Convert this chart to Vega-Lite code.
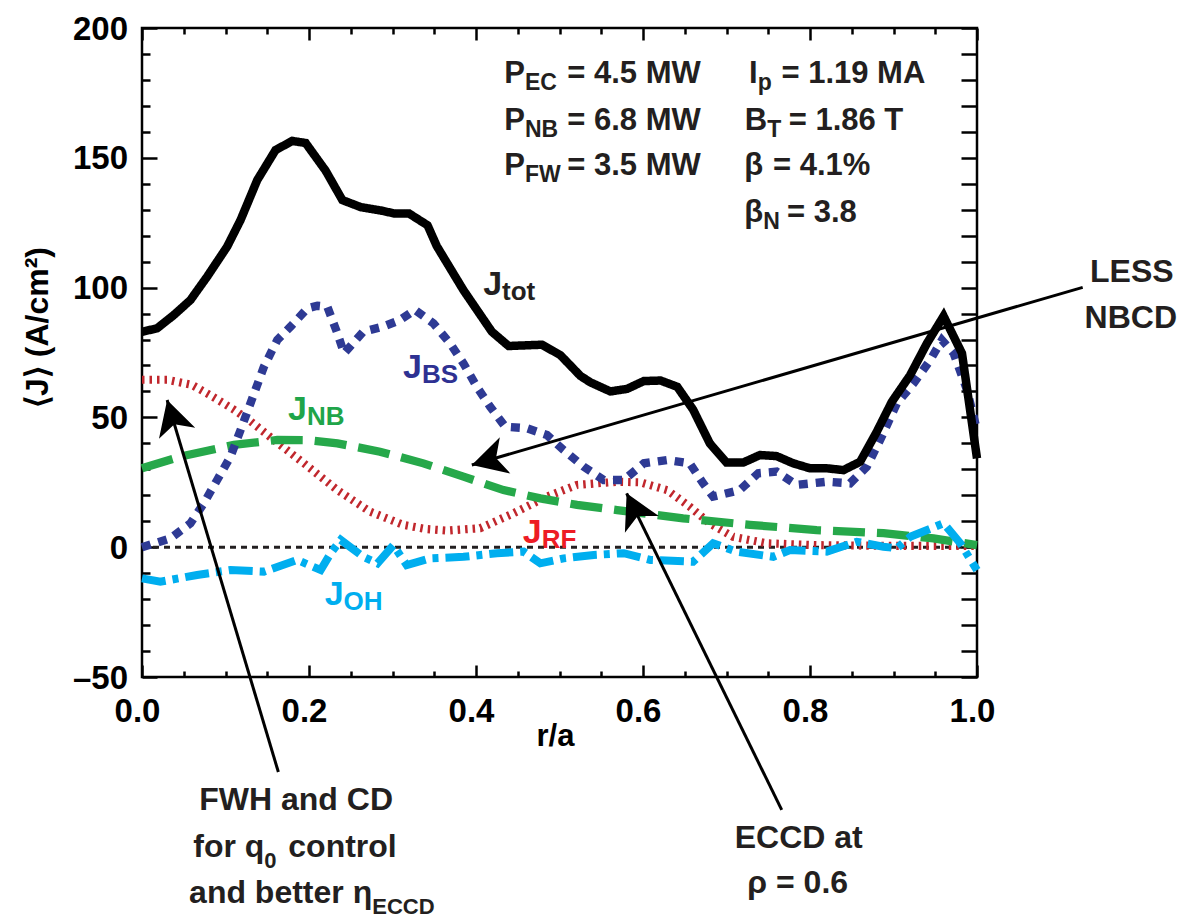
{
  "$schema": "https://vega.github.io/schema/vega-lite/v6.json",
  "width": 835,
  "height": 649,
  "autosize": {"type": "none"},
  "padding": {"left": 142, "top": 28, "right": 205, "bottom": 242},
  "background": "white",
  "config": {
    "view": {"stroke": "#000000", "strokeWidth": 2.5},
    "axis": {"grid": false, "domain": false, "tickColor": "#000000", "tickWidth": 2.5, "labelColor": "#000000", "titleColor": "#000000", "labelOverlap": false, "labelBound": false, "labelFlush": false},
    "text": {"baseline": "alphabetic", "fontWeight": "bold"}
  },
  "datasets": {
    "curves": [
      {"series": "RF", "r": 0, "j": 64.5}, {"series": "RF", "r": 0.03, "j": 64.5}, {"series": "RF", "r": 0.06, "j": 62.5}, {"series": "RF", "r": 0.082, "j": 58.5}, {"series": "RF", "r": 0.11, "j": 53}, {"series": "RF", "r": 0.13, "j": 48.5}, {"series": "RF", "r": 0.158, "j": 41.3}, {"series": "RF", "r": 0.194, "j": 32.3}, {"series": "RF", "r": 0.234, "j": 22}, {"series": "RF", "r": 0.273, "j": 13.7}, {"series": "RF", "r": 0.313, "j": 8.6}, {"series": "RF", "r": 0.34, "j": 7}, {"series": "RF", "r": 0.365, "j": 6.4}, {"series": "RF", "r": 0.405, "j": 7.3}, {"series": "RF", "r": 0.445, "j": 13.1}, {"series": "RF", "r": 0.485, "j": 19.5}, {"series": "RF", "r": 0.521, "j": 24}, {"series": "RF", "r": 0.569, "j": 25.2}, {"series": "RF", "r": 0.597, "j": 25}, {"series": "RF", "r": 0.629, "j": 22}, {"series": "RF", "r": 0.656, "j": 15.6}, {"series": "RF", "r": 0.68, "j": 9.2}, {"series": "RF", "r": 0.708, "j": 4}, {"series": "RF", "r": 0.748, "j": 1.5}, {"series": "RF", "r": 0.808, "j": 0.8}, {"series": "RF", "r": 0.9, "j": 0.5}, {"series": "RF", "r": 1.0, "j": 0.5},
      {"series": "NB", "r": 0, "j": 30.4}, {"series": "NB", "r": 0.046, "j": 34.9}, {"series": "NB", "r": 0.11, "j": 39.4}, {"series": "NB", "r": 0.162, "j": 41.3}, {"series": "NB", "r": 0.2, "j": 41.2}, {"series": "NB", "r": 0.234, "j": 40}, {"series": "NB", "r": 0.285, "j": 36.8}, {"series": "NB", "r": 0.337, "j": 32.3}, {"series": "NB", "r": 0.385, "j": 27.2}, {"series": "NB", "r": 0.433, "j": 22}, {"series": "NB", "r": 0.477, "j": 18.8}, {"series": "NB", "r": 0.521, "j": 16.3}, {"series": "NB", "r": 0.569, "j": 14.3}, {"series": "NB", "r": 0.648, "j": 11.1}, {"series": "NB", "r": 0.728, "j": 8.6}, {"series": "NB", "r": 0.808, "j": 6.6}, {"series": "NB", "r": 0.888, "j": 5.4}, {"series": "NB", "r": 0.948, "j": 3.4}, {"series": "NB", "r": 1.0, "j": 0.8},
      {"series": "OH", "r": 0, "j": -12}, {"series": "OH", "r": 0.022, "j": -13.3}, {"series": "OH", "r": 0.066, "j": -10.7}, {"series": "OH", "r": 0.106, "j": -8.8}, {"series": "OH", "r": 0.146, "j": -9.4}, {"series": "OH", "r": 0.186, "j": -4.9}, {"series": "OH", "r": 0.214, "j": -8.8}, {"series": "OH", "r": 0.226, "j": -2.3}, {"series": "OH", "r": 0.238, "j": 2.8}, {"series": "OH", "r": 0.265, "j": -3.7}, {"series": "OH", "r": 0.282, "j": -6.2}, {"series": "OH", "r": 0.301, "j": 0.8}, {"series": "OH", "r": 0.317, "j": -6.9}, {"series": "OH", "r": 0.345, "j": -4.3}, {"series": "OH", "r": 0.385, "j": -3.7}, {"series": "OH", "r": 0.425, "j": -2.3}, {"series": "OH", "r": 0.457, "j": -1.7}, {"series": "OH", "r": 0.477, "j": -6.2}, {"series": "OH", "r": 0.505, "j": -4.3}, {"series": "OH", "r": 0.541, "j": -3}, {"series": "OH", "r": 0.577, "j": -2.3}, {"series": "OH", "r": 0.609, "j": -4.9}, {"series": "OH", "r": 0.66, "j": -5.6}, {"series": "OH", "r": 0.684, "j": 1.5}, {"series": "OH", "r": 0.712, "j": -1.7}, {"series": "OH", "r": 0.756, "j": -3.7}, {"series": "OH", "r": 0.776, "j": -1.1}, {"series": "OH", "r": 0.82, "j": -1.7}, {"series": "OH", "r": 0.856, "j": 2.1}, {"series": "OH", "r": 0.888, "j": 0.2}, {"series": "OH", "r": 0.904, "j": -0.4}, {"series": "OH", "r": 0.92, "j": 4}, {"series": "OH", "r": 0.96, "j": 9.2}, {"series": "OH", "r": 0.98, "j": 1.5}, {"series": "OH", "r": 1.0, "j": -8.8},
      {"series": "BS", "r": 0, "j": 0}, {"series": "BS", "r": 0.034, "j": 3.4}, {"series": "BS", "r": 0.058, "j": 9.2}, {"series": "BS", "r": 0.074, "j": 16.9}, {"series": "BS", "r": 0.09, "j": 25.9}, {"series": "BS", "r": 0.106, "j": 34.9}, {"series": "BS", "r": 0.118, "j": 45.1}, {"series": "BS", "r": 0.134, "j": 59}, {"series": "BS", "r": 0.146, "j": 69.5}, {"series": "BS", "r": 0.162, "j": 79.8}, {"series": "BS", "r": 0.178, "j": 85}, {"series": "BS", "r": 0.198, "j": 92}, {"series": "BS", "r": 0.21, "j": 93}, {"series": "BS", "r": 0.222, "j": 92.6}, {"series": "BS", "r": 0.234, "j": 82.4}, {"series": "BS", "r": 0.242, "j": 74.7}, {"series": "BS", "r": 0.265, "j": 83}, {"series": "BS", "r": 0.289, "j": 85}, {"series": "BS", "r": 0.309, "j": 87.5}, {"series": "BS", "r": 0.327, "j": 91.4}, {"series": "BS", "r": 0.349, "j": 86.2}, {"series": "BS", "r": 0.369, "j": 78.5}, {"series": "BS", "r": 0.385, "j": 70.8}, {"series": "BS", "r": 0.401, "j": 61.8}, {"series": "BS", "r": 0.417, "j": 54.1}, {"series": "BS", "r": 0.435, "j": 46.4}, {"series": "BS", "r": 0.461, "j": 45.8}, {"series": "BS", "r": 0.485, "j": 43.2}, {"series": "BS", "r": 0.505, "j": 37.4}, {"series": "BS", "r": 0.529, "j": 31}, {"series": "BS", "r": 0.553, "j": 25.9}, {"series": "BS", "r": 0.577, "j": 25.9}, {"series": "BS", "r": 0.601, "j": 32.3}, {"series": "BS", "r": 0.629, "j": 33.6}, {"series": "BS", "r": 0.656, "j": 32.3}, {"series": "BS", "r": 0.672, "j": 24.6}, {"series": "BS", "r": 0.684, "j": 19.5}, {"series": "BS", "r": 0.716, "j": 22}, {"series": "BS", "r": 0.738, "j": 28.5}, {"series": "BS", "r": 0.76, "j": 29.1}, {"series": "BS", "r": 0.784, "j": 24}, {"series": "BS", "r": 0.82, "j": 25.2}, {"series": "BS", "r": 0.848, "j": 24.6}, {"series": "BS", "r": 0.868, "j": 31}, {"series": "BS", "r": 0.884, "j": 41.3}, {"series": "BS", "r": 0.904, "j": 55.4}, {"series": "BS", "r": 0.924, "j": 63.1}, {"series": "BS", "r": 0.944, "j": 72.1}, {"series": "BS", "r": 0.958, "j": 79.8}, {"series": "BS", "r": 0.972, "j": 74.7}, {"series": "BS", "r": 0.988, "j": 60.6}, {"series": "BS", "r": 1.0, "j": 45.1},
      {"series": "tot", "r": 0, "j": 83}, {"series": "tot", "r": 0.018, "j": 84.3}, {"series": "tot", "r": 0.038, "j": 89.4}, {"series": "tot", "r": 0.058, "j": 95.2}, {"series": "tot", "r": 0.078, "j": 104.2}, {"series": "tot", "r": 0.102, "j": 115.8}, {"series": "tot", "r": 0.118, "j": 126}, {"series": "tot", "r": 0.138, "j": 141.4}, {"series": "tot", "r": 0.16, "j": 153}, {"series": "tot", "r": 0.18, "j": 156.5}, {"series": "tot", "r": 0.196, "j": 155.7}, {"series": "tot", "r": 0.22, "j": 145}, {"series": "tot", "r": 0.24, "j": 133.7}, {"series": "tot", "r": 0.262, "j": 131}, {"series": "tot", "r": 0.286, "j": 129.7}, {"series": "tot", "r": 0.303, "j": 128.5}, {"series": "tot", "r": 0.32, "j": 128.5}, {"series": "tot", "r": 0.342, "j": 124}, {"series": "tot", "r": 0.353, "j": 116}, {"series": "tot", "r": 0.385, "j": 99}, {"series": "tot", "r": 0.419, "j": 83}, {"series": "tot", "r": 0.439, "j": 77.5}, {"series": "tot", "r": 0.479, "j": 78}, {"series": "tot", "r": 0.501, "j": 74}, {"series": "tot", "r": 0.525, "j": 66}, {"series": "tot", "r": 0.537, "j": 63.5}, {"series": "tot", "r": 0.561, "j": 60}, {"series": "tot", "r": 0.581, "j": 61}, {"series": "tot", "r": 0.601, "j": 64}, {"series": "tot", "r": 0.621, "j": 64.2}, {"series": "tot", "r": 0.641, "j": 61.8}, {"series": "tot", "r": 0.66, "j": 53}, {"series": "tot", "r": 0.68, "j": 40}, {"series": "tot", "r": 0.7, "j": 32.6}, {"series": "tot", "r": 0.72, "j": 32.6}, {"series": "tot", "r": 0.74, "j": 35.5}, {"series": "tot", "r": 0.76, "j": 35.1}, {"series": "tot", "r": 0.78, "j": 32.3}, {"series": "tot", "r": 0.8, "j": 30.4}, {"series": "tot", "r": 0.82, "j": 30.4}, {"series": "tot", "r": 0.84, "j": 29.7}, {"series": "tot", "r": 0.86, "j": 32.9}, {"series": "tot", "r": 0.88, "j": 44.5}, {"series": "tot", "r": 0.898, "j": 56}, {"series": "tot", "r": 0.92, "j": 66.3}, {"series": "tot", "r": 0.94, "j": 78.5}, {"series": "tot", "r": 0.96, "j": 89}, {"series": "tot", "r": 0.982, "j": 74.7}, {"series": "tot", "r": 1.0, "j": 34.2}
    ],
    "curveLabels": [
      {"series": "tot", "r1": 0.4312, "j": 97.2, "main": "J", "sub": "tot"},
      {"series": "BS", "r1": 0.3352, "j": 65.1, "main": "J", "sub": "BS"},
      {"series": "NB", "r1": 0.1976, "j": 49.0, "main": "J", "sub": "NB"},
      {"series": "RF", "r1": 0.4787, "j": 1.5, "main": "J", "sub": "RF"},
      {"series": "OH", "r1": 0.2414, "j": -22.3, "main": "J", "sub": "OH"}
    ],
    "params": [
      {"x1": 0.4587, "x2": 0.5093, "j": 178.7, "main": "P", "sub": "EC", "rest": "= 4.5 MW"},
      {"x1": 0.4587, "x2": 0.5093, "j": 160.7, "main": "P", "sub": "NB", "rest": "= 6.8 MW"},
      {"x1": 0.4587, "x2": 0.5093, "j": 143.4, "main": "P", "sub": "FW", "rest": "= 3.5 MW"},
      {"x1": 0.7374, "x2": 0.7658, "j": 178.7, "main": "I", "sub": "p", "rest": "= 1.19 MA"},
      {"x1": 0.7488, "x2": 0.7745, "j": 160.7, "main": "B", "sub": "T", "rest": "= 1.86 T"},
      {"x1": 0.7440, "x2": 0.7557, "j": 143.4, "main": "β", "sub": "", "rest": "= 4.1%"},
      {"x1": 0.7440, "x2": 0.7725, "j": 125.4, "main": "β", "sub": "N", "rest": "= 3.8"}
    ],
    "notes": [
      {"r": 0.1846, "j": -101.2, "text": "FWH and CD"},
      {"r": 0.7865, "j": -116.0, "text": "ECCD at"},
      {"r": 0.7853, "j": -133.3, "text": "ρ = 0.6"},
      {"r": 1.1854, "j": 102.3, "text": "LESS"},
      {"r": 1.1842, "j": 84.4, "text": "NBCD"}
    ],
    "notesSplit": [
      {"r1": 0.1465, "r2": 0.1752, "j": -119.2, "main": "for q", "sub": "0", "rest": "control"},
      {"r1": 0.2757, "r2": 0.34, "j": -137.1, "main": "and better η", "sub": "ECCD", "rest": ""}
    ],
    "arrows": [
      {"name": "nbcd", "r1": 1.1266, "j1": 100.1, "r2": 0.395, "j2": 31.66},
      {"name": "fwh", "r1": 0.1633, "j1": -86.6, "r2": 0.0301, "j2": 56.7},
      {"name": "eccd", "r1": 0.7661, "j1": -101.2, "r2": 0.5804, "j2": 20.76}
    ]
  },
  "resolve": {"axis": {"x": "independent", "y": "independent"}, "scale": {"color": "independent"}},
  "layer": [
    {
      "data": {"values": [{}]},
      "mark": {"type": "rule", "strokeDash": [6, 5], "strokeWidth": 3, "color": "#231f20"},
      "encoding": {
        "x": {"datum": 0, "type": "quantitative", "scale": {"domain": [0, 1], "nice": false, "zero": false},
          "axis": {"orient": "top", "values": [0, 0.05, 0.1, 0.15, 0.2, 0.25, 0.3, 0.35, 0.4, 0.45, 0.5, 0.55, 0.6, 0.65, 0.7, 0.75, 0.8, 0.85, 0.9, 0.95, 1],
            "tickSize": {"condition": {"test": "abs(datum.value * 5 - round(datum.value * 5)) < 0.001", "value": -12}, "value": -6},
            "labels": false, "title": null}},
        "x2": {"datum": 1},
        "y": {"datum": 0, "type": "quantitative", "scale": {"domain": [-50, 200], "nice": false, "zero": false},
          "axis": {"orient": "right", "values": [-50, -40, -30, -20, -10, 0, 10, 20, 30, 40, 50, 60, 70, 80, 90, 100, 110, 120, 130, 140, 150, 160, 170, 180, 190, 200],
            "tickSize": -16, "labels": false, "title": null}}
      }
    },
    {
      "data": {"name": "curves"},
      "mark": {"type": "line", "strokeJoin": "miter", "strokeCap": "butt", "strokeMiterLimit": 10},
      "encoding": {
        "x": {"field": "r", "type": "quantitative", "scale": {"domain": [0, 1], "nice": false, "zero": false},
          "axis": {"orient": "bottom", "values": [0, 0.05, 0.1, 0.15, 0.2, 0.25, 0.3, 0.35, 0.4, 0.45, 0.5, 0.55, 0.6, 0.65, 0.7, 0.75, 0.8, 0.85, 0.9, 0.95, 1],
            "tickSize": {"condition": {"test": "abs(datum.value * 5 - round(datum.value * 5)) < 0.001", "value": -12}, "value": -6},
            "labelExpr": "abs(datum.value * 5 - round(datum.value * 5)) < 0.001 ? format(datum.value, '.1f') : ''",
            "labelFont": "Liberation Sans, Arial, Helvetica, sans-serif", "labelFontSize": 33, "labelFontWeight": "bold",
            "labelPadding": 30, "labelOffset": -5,
            "title": "r/a", "titleFont": "Liberation Sans, Arial, Helvetica, sans-serif", "titleFontSize": 31, "titleFontWeight": "bold",
            "titleX": 413, "titleY": 68, "titleBaseline": "alphabetic", "titleAlign": "center"}},
        "y": {"field": "j", "type": "quantitative", "scale": {"domain": [-50, 200], "nice": false, "zero": false},
          "axis": {"orient": "left", "values": [-50, -40, -30, -20, -10, 0, 10, 20, 30, 40, 50, 60, 70, 80, 90, 100, 110, 120, 130, 140, 150, 160, 170, 180, 190, 200],
            "tickSize": {"condition": {"test": "datum.value % 50 == 0", "value": -15}, "value": -8},
            "labelExpr": "datum.value % 50 == 0 ? (datum.value < 0 ? '–' + format(-datum.value, 'd') : format(datum.value, 'd')) : ''",
            "labelFont": "Liberation Sans, Arial, Helvetica, sans-serif", "labelFontSize": 33, "labelFontWeight": "bold",
            "labelPadding": 29.5, "labelOffset": 1,
            "title": "⟨J⟩ (A/cm²)", "titleFont": "Liberation Sans, Arial, Helvetica, sans-serif", "titleFontSize": 32, "titleFontWeight": "bold",
            "titleAngle": 270, "titleX": -95, "titleY": 299, "titleBaseline": "alphabetic", "titleAlign": "center"}},
        "color": {"field": "series", "type": "nominal", "legend": null,
          "scale": {"domain": ["tot", "BS", "NB", "RF", "OH"], "range": ["#000000", "#2e3a94", "#26a84a", "#c1272d", "#00aeef"]}},
        "strokeDash": {"field": "series", "type": "nominal", "legend": null,
          "scale": {"domain": ["tot", "BS", "NB", "RF", "OH"], "range": [[1, 0], [9, 8], [32, 12], [2.5, 5], [24, 7, 6, 7]]}},
        "strokeWidth": {"field": "series", "type": "nominal", "legend": null,
          "scale": {"domain": ["tot", "BS", "NB", "RF", "OH"], "range": [8.5, 8, 8, 7, 8]}}
      }
    },
    {
      "data": {"name": "arrows"},
      "mark": {"type": "rule", "strokeWidth": 3, "color": "#000000", "strokeCap": "butt"},
      "encoding": {
        "x": {"field": "r1", "type": "quantitative", "scale": {"domain": [0, 1], "nice": false, "zero": false}, "axis": null},
        "y": {"field": "j1", "type": "quantitative", "scale": {"domain": [-50, 200], "nice": false, "zero": false}, "axis": null},
        "x2": {"field": "r2"},
        "y2": {"field": "j2"}
      }
    },
    {
      "data": {"name": "arrows"},
      "transform": [{"filter": "datum.name === 'nbcd'"}],
      "mark": {"type": "point", "shape": "M0,0L0.9,1.65L0,1.2L-0.9,1.65Z", "size": 1764, "filled": true, "color": "#000000", "opacity": 1, "strokeWidth": 0, "angle": 253.8},
      "encoding": {
        "x": {"field": "r2", "type": "quantitative", "scale": {"domain": [0, 1], "nice": false, "zero": false}, "axis": null},
        "y": {"field": "j2", "type": "quantitative", "scale": {"domain": [-50, 200], "nice": false, "zero": false}, "axis": null}
      }
    },
    {
      "data": {"name": "arrows"},
      "transform": [{"filter": "datum.name === 'fwh'"}],
      "mark": {"type": "point", "shape": "M0,0L0.9,1.65L0,1.2L-0.9,1.65Z", "size": 1764, "filled": true, "color": "#000000", "opacity": 1, "strokeWidth": 0, "angle": 343.3},
      "encoding": {
        "x": {"field": "r2", "type": "quantitative", "scale": {"domain": [0, 1], "nice": false, "zero": false}, "axis": null},
        "y": {"field": "j2", "type": "quantitative", "scale": {"domain": [-50, 200], "nice": false, "zero": false}, "axis": null}
      }
    },
    {
      "data": {"name": "arrows"},
      "transform": [{"filter": "datum.name === 'eccd'"}],
      "mark": {"type": "point", "shape": "M0,0L0.9,1.65L0,1.2L-0.9,1.65Z", "size": 1764, "filled": true, "color": "#000000", "opacity": 1, "strokeWidth": 0, "angle": 333.9},
      "encoding": {
        "x": {"field": "r2", "type": "quantitative", "scale": {"domain": [0, 1], "nice": false, "zero": false}, "axis": null},
        "y": {"field": "j2", "type": "quantitative", "scale": {"domain": [-50, 200], "nice": false, "zero": false}, "axis": null}
      }
    },
    {
      "data": {"name": "curveLabels"},
      "mark": {"type": "text", "align": "right", "font": "Liberation Sans, Arial, Helvetica, sans-serif", "fontSize": 34, "fontWeight": "bold"},
      "encoding": {
        "x": {"field": "r1", "type": "quantitative", "scale": {"domain": [0, 1], "nice": false, "zero": false}, "axis": null},
        "y": {"field": "j", "type": "quantitative", "scale": {"domain": [-50, 200], "nice": false, "zero": false}, "axis": null},
        "text": {"field": "main"},
        "color": {"field": "series", "type": "nominal", "legend": null,
          "scale": {"domain": ["tot", "BS", "NB", "RF", "OH"], "range": ["#231f20", "#2e3192", "#1fa54a", "#ed1c24", "#00aeef"]}}
      }
    },
    {
      "data": {"name": "curveLabels"},
      "mark": {"type": "text", "align": "left", "dy": 5, "font": "Liberation Sans, Arial, Helvetica, sans-serif", "fontSize": 26, "fontWeight": "bold"},
      "encoding": {
        "x": {"field": "r1", "type": "quantitative", "scale": {"domain": [0, 1], "nice": false, "zero": false}, "axis": null},
        "y": {"field": "j", "type": "quantitative", "scale": {"domain": [-50, 200], "nice": false, "zero": false}, "axis": null},
        "text": {"field": "sub"},
        "color": {"field": "series", "type": "nominal", "legend": null,
          "scale": {"domain": ["tot", "BS", "NB", "RF", "OH"], "range": ["#231f20", "#2e3192", "#1fa54a", "#ed1c24", "#00aeef"]}}
      }
    },
    {
      "data": {"name": "params"},
      "mark": {"type": "text", "align": "right", "font": "Liberation Sans, Arial, Helvetica, sans-serif", "fontSize": 31, "fontWeight": "bold", "color": "#231f20"},
      "encoding": {
        "x": {"field": "x1", "type": "quantitative", "scale": {"domain": [0, 1], "nice": false, "zero": false}, "axis": null},
        "y": {"field": "j", "type": "quantitative", "scale": {"domain": [-50, 200], "nice": false, "zero": false}, "axis": null},
        "text": {"field": "main"}
      }
    },
    {
      "data": {"name": "params"},
      "mark": {"type": "text", "align": "left", "dy": 7, "font": "Liberation Sans, Arial, Helvetica, sans-serif", "fontSize": 23, "fontWeight": "bold", "color": "#231f20"},
      "encoding": {
        "x": {"field": "x1", "type": "quantitative", "scale": {"domain": [0, 1], "nice": false, "zero": false}, "axis": null},
        "y": {"field": "j", "type": "quantitative", "scale": {"domain": [-50, 200], "nice": false, "zero": false}, "axis": null},
        "text": {"field": "sub"}
      }
    },
    {
      "data": {"name": "params"},
      "mark": {"type": "text", "align": "left", "font": "Liberation Sans, Arial, Helvetica, sans-serif", "fontSize": 31, "fontWeight": "bold", "color": "#231f20"},
      "encoding": {
        "x": {"field": "x2", "type": "quantitative", "scale": {"domain": [0, 1], "nice": false, "zero": false}, "axis": null},
        "y": {"field": "j", "type": "quantitative", "scale": {"domain": [-50, 200], "nice": false, "zero": false}, "axis": null},
        "text": {"field": "rest"}
      }
    },
    {
      "data": {"name": "notes"},
      "mark": {"type": "text", "align": "center", "font": "Liberation Sans, Arial, Helvetica, sans-serif", "fontSize": 32, "fontWeight": "bold", "color": "#231f20"},
      "encoding": {
        "x": {"field": "r", "type": "quantitative", "scale": {"domain": [0, 1], "nice": false, "zero": false}, "axis": null},
        "y": {"field": "j", "type": "quantitative", "scale": {"domain": [-50, 200], "nice": false, "zero": false}, "axis": null},
        "text": {"field": "text"}
      }
    },
    {
      "data": {"name": "notesSplit"},
      "mark": {"type": "text", "align": "right", "font": "Liberation Sans, Arial, Helvetica, sans-serif", "fontSize": 32, "fontWeight": "bold", "color": "#231f20"},
      "encoding": {
        "x": {"field": "r1", "type": "quantitative", "scale": {"domain": [0, 1], "nice": false, "zero": false}, "axis": null},
        "y": {"field": "j", "type": "quantitative", "scale": {"domain": [-50, 200], "nice": false, "zero": false}, "axis": null},
        "text": {"field": "main"}
      }
    },
    {
      "data": {"name": "notesSplit"},
      "mark": {"type": "text", "align": "left", "dy": 11, "font": "Liberation Sans, Arial, Helvetica, sans-serif", "fontSize": 22, "fontWeight": "bold", "color": "#231f20"},
      "encoding": {
        "x": {"field": "r1", "type": "quantitative", "scale": {"domain": [0, 1], "nice": false, "zero": false}, "axis": null},
        "y": {"field": "j", "type": "quantitative", "scale": {"domain": [-50, 200], "nice": false, "zero": false}, "axis": null},
        "text": {"field": "sub"}
      }
    },
    {
      "data": {"name": "notesSplit"},
      "mark": {"type": "text", "align": "left", "font": "Liberation Sans, Arial, Helvetica, sans-serif", "fontSize": 32, "fontWeight": "bold", "color": "#231f20"},
      "encoding": {
        "x": {"field": "r2", "type": "quantitative", "scale": {"domain": [0, 1], "nice": false, "zero": false}, "axis": null},
        "y": {"field": "j", "type": "quantitative", "scale": {"domain": [-50, 200], "nice": false, "zero": false}, "axis": null},
        "text": {"field": "rest"}
      }
    }
  ]
}
